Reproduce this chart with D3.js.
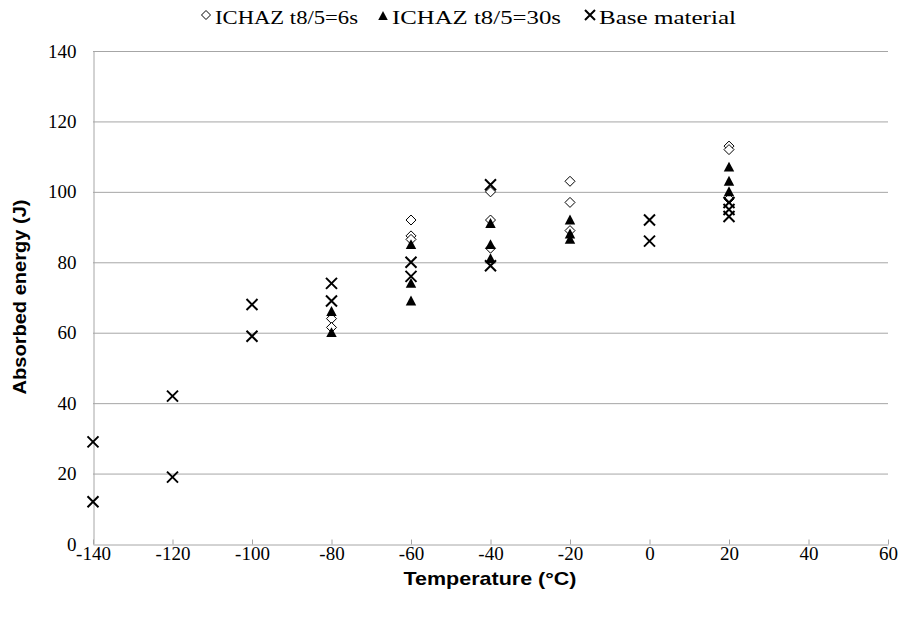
<!DOCTYPE html>
<html><head><meta charset="utf-8">
<script src="https://cdn.jsdelivr.net/npm/d3@7"></script>
<style>body{margin:0;background:#fff}</style>
</head><body>
<svg id="c" width="904" height="620"></svg>
<script>
const xTicks = [-140,-120,-100,-80,-60,-40,-20,0,20,40,60];
const yTicks = [0,20,40,60,80,100,120,140];
const seriesNames = ["ICHAZ t8/5=6s","ICHAZ t8/5=30s","Base material"];
const ichaz6 = [[-80,64],[-80,61.5],[-60,92],[-60,87.5],[-60,86.5],[-40,100],[-40,92],[-40,84],[-20,103],[-20,97],[-20,89],[20,113],[20,112],[20,98]];
const ichaz30 = [[-80,66],[-80,60],[-60,85],[-60,74],[-60,69],[-40,91],[-40,85],[-40,81],[-20,92],[-20,88],[-20,86.5],[20,107],[20,103],[20,100]];
const base = [[-140,29],[-140,12],[-120,42],[-120,19],[-100,68],[-100,59],[-80,74],[-80,69],[-60,80],[-60,76],[-40,102],[-40,79],[0,92],[0,86],[20,97],[20,95],[20,93]];

const serif = "'Liberation Serif','Times New Roman',serif";
const sans = "'Liberation Sans',Arial,sans-serif";
const svg = d3.select("#c");
const x = d3.scaleLinear().domain([-140,60]).range([93,888]);
const y = d3.scaleLinear().domain([0,140]).range([544,51]);
const grid = "#a6a6a6";
const fmt = d => String(d);

// gridlines
svg.append("g").selectAll("line").data(yTicks.filter(d=>d>0)).join("line")
  .attr("x1",93).attr("x2",888).attr("y1",d=>y(d)+0.5).attr("y2",d=>y(d)+0.5)
  .attr("stroke",grid).attr("stroke-width",1);

// x axis with inward ticks
const xa = svg.append("g").attr("transform","translate(0,544.5)")
  .call(d3.axisBottom(x).tickValues(xTicks).tickSizeInner(-5).tickSizeOuter(0).tickFormat(fmt));
xa.attr("font-family",null).attr("font-size",null);
xa.select(".domain").attr("stroke",grid);
xa.selectAll(".tick line").attr("stroke",grid);
xa.selectAll("text").style("font-family",serif).style("font-size","19px").attr("fill","#000").attr("y",2).attr("dy","0.71em");

// y axis
const ya = svg.append("g").attr("transform","translate(93.5,0)")
  .call(d3.axisLeft(y).tickValues(yTicks).tickSize(0).tickFormat(fmt));
ya.attr("font-family",null).attr("font-size",null);
ya.select(".domain").attr("stroke",grid);
ya.selectAll("text").style("font-family",serif).style("font-size","19px").attr("fill","#000").attr("x",-17);

// markers
const diamond = s => `M0,${-s}L${s},0L0,${s}L${-s},0Z`;
const tri = s => `M0,${-s}L${s*0.95},${s*0.8}L${-s*0.95},${s*0.8}Z`;
const cross = s => `M${-s},${-s}L${s},${s}M${-s},${s}L${s},${-s}`;

svg.append("g").selectAll("path").data(ichaz6).join("path")
  .attr("transform",d=>`translate(${x(d[0])},${y(d[1])})`)
  .attr("d",diamond(5)).attr("fill","#fff").attr("stroke","#000").attr("stroke-width",1);
svg.append("g").selectAll("path").data(ichaz30).join("path")
  .attr("transform",d=>`translate(${x(d[0])},${y(d[1])})`)
  .attr("d",tri(5.5)).attr("fill","#000");
svg.append("g").selectAll("path").data(base).join("path")
  .attr("transform",d=>`translate(${x(d[0])},${y(d[1])})`)
  .attr("d",cross(5.5)).attr("fill","none").attr("stroke","#000").attr("stroke-width",2);

// legend
const lg = svg.append("g").style("font-family",serif).style("font-size","19px");
const lx = [206, 383, 590];
const lw = [143, 169, 137];
const shapes = [diamond(4.5), tri(5), cross(5)];
seriesNames.forEach((n,i)=>{
  const p = lg.append("path").attr("transform",`translate(${lx[i]},${i===1?16:15})`).attr("d",shapes[i]);
  if(i===0) p.attr("fill","#fff").attr("stroke","#000");
  else if(i===1) p.attr("fill","#000");
  else p.attr("fill","none").attr("stroke","#000").attr("stroke-width",2);
  lg.append("text").attr("x",lx[i]+9).attr("y",24)
    .attr("textLength",lw[i]).attr("lengthAdjust","spacingAndGlyphs").text(n);
});

// axis titles
svg.append("text").attr("x",490).attr("y",585).attr("text-anchor","middle")
  .style("font-family",sans).style("font-weight","bold").style("font-size","19px")
  .attr("textLength",173).attr("lengthAdjust","spacingAndGlyphs").text("Temperature (°C)");
svg.append("text").attr("transform","translate(26,297) rotate(-90)").attr("text-anchor","middle")
  .style("font-family",sans).style("font-weight","bold").style("font-size","19px")
  .attr("textLength",195).attr("lengthAdjust","spacingAndGlyphs").text("Absorbed energy (J)");
</script>
</body></html>
